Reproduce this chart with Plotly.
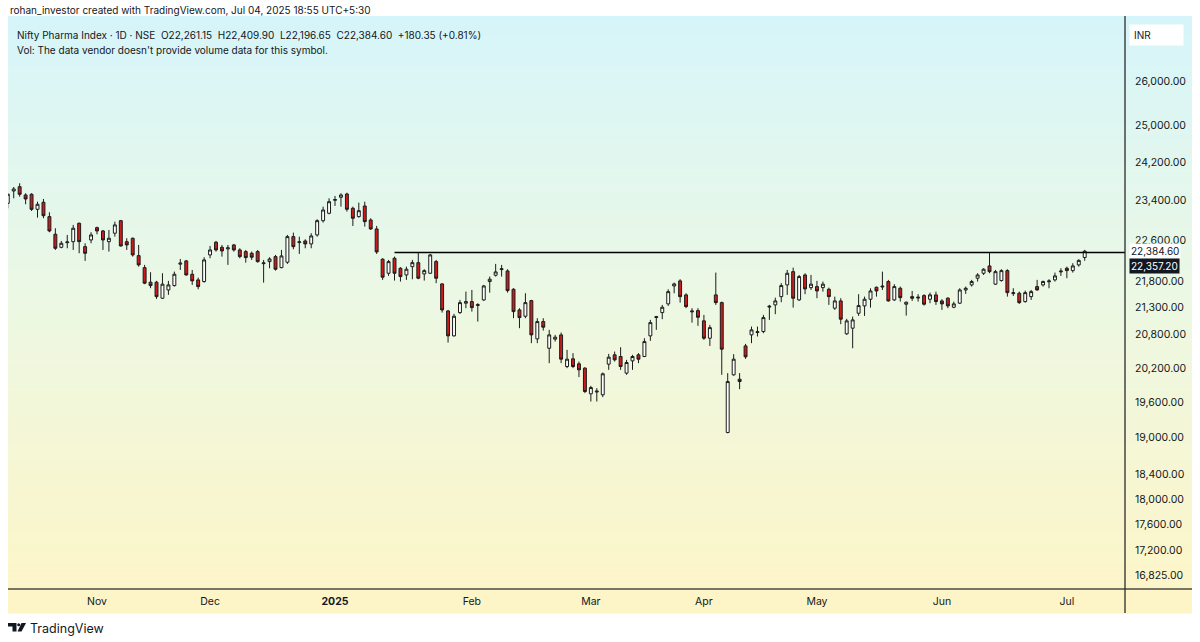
import math
import pandas as pd
import plotly.graph_objects as go

symbol = "Nifty Pharma Index · 1D · NSE"
header = "rohan_investor created with TradingView.com, Jul 04, 2025 18:55 UTC+5:30"
vol_note = "Vol: The data vendor doesn't provide volume data for this symbol."

# NSE trading days shown on the chart
holidays = ["2024-11-15", "2024-11-20", "2024-12-25", "2025-02-26", "2025-03-14",
            "2025-03-31", "2025-04-10", "2025-04-14", "2025-04-18", "2025-05-01"]
special_sessions = ["2025-02-01"]

opens = [
    23348, 23602, 23692, 23520, 23534, 23225, 23369, 23076, 22721, 22461,
    22553, 22573, 22942, 22474, 22607, 22853, 22787, 22573, 22741, 22994,
    22573, 22641, 22297, 22063, 21782, 21782, 21477, 21634, 21717, 22130,
    22194, 21935, 21826, 21794, 22311, 22561, 22461, 22430, 22508, 22409,
    22376, 22344, 22376, 22140, 22180, 22278, 22063, 22168, 22673, 22555,
    22587, 22528, 22707, 22994, 23144, 23410, 23472, 23540, 23246, 23076,
    23293, 23008, 22827, 22227, 21954, 22246, 22051, 21921, 22082, 22160,
    21941, 21954, 22180, 21749, 21238, 20777, 21207, 21383, 21413, 21340,
    21445, 21794, 21916, 22025, 21999, 21647, 21257, 21139, 21432, 20722,
    21040, 20552, 20717, 20795, 20224, 20361, 20272, 20195, 19744, 19775,
    19727, 20266, 20433, 20403, 20107, 20325, 20433, 20403, 20777, 21115,
    21207, 21370, 21710, 21807, 21540, 21220, 21244, 21053, 20734, 21540,
    21394, 19083, 20077, 20000, 20594, 20795, 20838, 20856, 21310, 21351,
    21507, 21730, 21985, 21445, 21921, 21678, 21698, 21678, 21647, 21289,
    21426, 20814, 20918, 21195, 21332, 21458, 21685, 21690, 21794, 21445,
    21666, 21364, 21507, 21480, 21526, 21458, 21540, 21426, 21477, 21307,
    21383, 21634, 21730, 21858, 21954, 22096, 21744, 21813, 22005, 21565,
    21571, 21413, 21507, 21698, 21730, 21790, 21826, 21980, 22051, 22005,
    22116, 22261.15,
]
highs = [
    23555, 23686, 23763, 23555, 23555, 23381, 23437, 23164, 22841, 22587,
    22707, 22908, 22954, 22541, 22761, 22874, 22807, 22807, 22974, 23008,
    22641, 22653, 22508, 22116, 21974, 21807, 21954, 21807, 21985, 22232,
    22213, 22018, 21870, 22266, 22488, 22587, 22508, 22508, 22528, 22442,
    22409, 22376, 22409, 22213, 22266, 22311, 22409, 22707, 22753, 22673,
    22621, 22741, 23022, 23279, 23451, 23499, 23555, 23567, 23279, 23361,
    23381, 23043, 22887, 22246, 22213, 22278, 22071, 22082, 22213, 22356,
    22032, 22331, 22213, 21763, 21257, 21183, 21445, 21602, 21634, 21383,
    21730, 21890, 22135, 22116, 22032, 21666, 21289, 21571, 21445, 21102,
    21102, 20887, 20795, 20838, 20522, 20463, 20313, 20213, 19882, 19842,
    20117, 20450, 20492, 20570, 20343, 20433, 20463, 20734, 21071, 21145,
    21351, 21647, 21774, 21839, 21571, 21289, 21289, 21164, 20979, 21967,
    21413, 20107, 20445, 20107, 20631, 20948, 20948, 21164, 21351, 21488,
    21763, 22018, 22063, 21921, 21954, 21921, 21807, 21794, 21678, 21507,
    21477, 21090, 21133, 21553, 21507, 21666, 21698, 21985, 21826, 21744,
    21698, 21413, 21615, 21553, 21553, 21583, 21602, 21458, 21496, 21413,
    21666, 21698, 21826, 21954, 22051, 22360, 22018, 22032, 22032, 21666,
    21602, 21621, 21634, 21826, 21813, 21839, 21967, 22051, 22082, 22149,
    22225, 22409.90,
]
lows = [
    23246, 23451, 23484, 23328, 23191, 23055, 23043, 22761, 22409, 22442,
    22442, 22409, 22344, 22194, 22541, 22721, 22409, 22376, 22673, 22474,
    22409, 22278, 22082, 21744, 21667, 21464, 21464, 21540, 21698, 22018,
    21908, 21730, 21647, 21774, 22246, 22376, 22278, 22116, 22376, 22246,
    22160, 22213, 22160, 21774, 22051, 22005, 22051, 22135, 22422, 22331,
    22442, 22442, 22673, 22954, 23123, 23293, 23279, 23177, 22887, 23055,
    22874, 22807, 22331, 21826, 21903, 21813, 21794, 21826, 21839, 21839,
    21813, 21941, 21763, 21207, 20655, 20765, 21183, 21289, 21225, 21040,
    21426, 21583, 21890, 21890, 21583, 21102, 20918, 21102, 20644, 20644,
    20874, 20284, 20673, 20284, 20195, 20195, 20037, 19756, 19611, 19611,
    19686, 20165, 20313, 20165, 20077, 20165, 20284, 20392, 20686, 20887,
    21084, 21332, 21571, 21394, 21289, 21021, 20961, 20704, 20594, 21351,
    20077, 19070, 20060, 19825, 20361, 20644, 20765, 20826, 21071, 21177,
    21402, 21540, 21300, 21426, 21553, 21634, 21477, 21602, 21351, 21257,
    20992, 20795, 20552, 21145, 21145, 21300, 21507, 21634, 21413, 21426,
    21413, 21151, 21426, 21413, 21338, 21383, 21351, 21257, 21289, 21289,
    21370, 21559, 21698, 21794, 21921, 21954, 21730, 21794, 21507, 21520,
    21370, 21394, 21445, 21621, 21698, 21666, 21794, 21903, 21858, 21967,
    22082, 22196.65,
]
closes = [
    23534, 23644, 23534, 23437, 23225, 23328, 23095, 22787, 22442, 22541,
    22567, 22841, 22573, 22344, 22707, 22787, 22607, 22641, 22908, 22488,
    22508, 22311, 22116, 21763, 21717, 21507, 21744, 21730, 21935, 22150,
    21921, 21807, 21698, 22213, 22409, 22409, 22389, 22450, 22409, 22278,
    22259, 22266, 22180, 22155, 22232, 22032, 22291, 22673, 22474, 22570,
    22528, 22687, 22994, 23211, 23381, 23425, 23520, 23225, 23043, 23197,
    22974, 22827, 22370, 21878, 22180, 21954, 21890, 22032, 22160, 21858,
    22005, 22311, 21858, 21257, 20777, 21139, 21394, 21413, 21300, 21355,
    21710, 21839, 21980, 22040, 21621, 21225, 21114, 21394, 20795, 21040,
    20936, 20795, 20753, 20355, 20355, 20224, 20165, 19784, 19853, 19790,
    20095, 20391, 20343, 20224, 20295, 20403, 20355, 20673, 21021, 21130,
    21307, 21602, 21749, 21507, 21319, 21235, 21120, 20734, 20929, 21394,
    20535, 19958, 20355, 19958, 20397, 20887, 20853, 21114, 21325, 21426,
    21717, 21954, 21477, 21890, 21653, 21744, 21615, 21744, 21507, 21426,
    21084, 21053, 21071, 21338, 21458, 21615, 21615, 21705, 21426, 21698,
    21488, 21402, 21477, 21495, 21364, 21540, 21413, 21370, 21332, 21370,
    21634, 21666, 21794, 21921, 22032, 21985, 21985, 22005, 21583, 21580,
    21394, 21583, 21602, 21634, 21794, 21805, 21903, 21995, 22005, 22096,
    22204.25, 22384.60,
]

price_ticks = [26000, 25000, 24200, 23400, 22600, 21800, 21300, 20800, 20200,
               19600, 19000, 18400, 18000, 17600, 17200, 16825]
month_names = {1: "<b>2025</b>", 2: "Feb", 3: "Mar", 4: "Apr", 5: "May", 6: "Jun",
               7: "Jul", 11: "Nov", 12: "Dec"}
hline_price = 22357.20
hline_start = "2025-01-15"

dates = pd.bdate_range("2024-10-11", "2025-07-04", freq="C", holidays=holidays)
dates = dates.union(pd.DatetimeIndex(special_sessions))
assert len(dates) == len(opens) == len(highs) == len(lows) == len(closes)
xs = list(range(len(dates)))

tick_pos, tick_txt = [], []
for i, d in enumerate(dates):
    if i > 0 and d.month in month_names and dates[i - 1].month != d.month:
        tick_pos.append(i)
        tick_txt.append(month_names[d.month])

W, H = 1200, 642
L, R, T, B = 8, 75, 16, 53
PW, PH = W - L - R, H - T - B
BAR_PX = 5.95
x0 = 0.04
x1 = x0 + PW / BAR_PX
y_lo, y_hi = 4.22083, 4.43984


def px(x):
    return (x - L) / PW


def py(y):
    return (H - B - y) / PH


TXT = "#131722"
FONT = "Inter"

fig = go.Figure()

# gradient background (cyan -> pale green -> pale yellow)
stops = [(0.0, (214, 245, 250)), (0.5, (237, 248, 226)), (1.0, (254, 245, 198))]
n = 120
top, bot = 16, 613
for k in range(n):
    t = (k + 0.5) / n
    for (a, ca), (b, cb) in zip(stops[:-1], stops[1:]):
        if a <= t <= b:
            f = (t - a) / (b - a)
            c = tuple(round(ca[j] + (cb[j] - ca[j]) * f) for j in range(3))
    ya = top + (bot - top) * k / n
    yb = top + (bot - top) * (k + 1) / n + 0.6
    fig.add_shape(type="rect", xref="paper", yref="paper", x0=px(8), x1=px(1192),
                  y0=py(yb), y1=py(ya), line_width=0, fillcolor="rgb(%d,%d,%d)" % c,
                  layer="below")

fig.add_trace(go.Candlestick(
    x=xs, open=opens, high=highs, low=lows, close=closes,
    increasing=dict(fillcolor="#ffffff", line=dict(color="#1b1b1b", width=1)),
    decreasing=dict(fillcolor="#cc1b1b", line=dict(color="#1b1b1b", width=1)),
    whiskerwidth=0, showlegend=False, hoverinfo="skip",
))

start_idx = list(dates).index(pd.Timestamp(hline_start))
fig.add_trace(go.Scatter(x=[start_idx, x1], y=[hline_price, hline_price], mode="lines",
                         line=dict(color="#000000", width=1.6), showlegend=False,
                         hoverinfo="skip"))

# axis lines
fig.add_shape(type="line", xref="paper", yref="paper", x0=px(8), x1=px(1192),
              y0=0, y1=0, line=dict(color="#4a4a42", width=1.3))
fig.add_shape(type="line", xref="paper", yref="paper", x0=1, x1=1,
              y0=py(613), y1=py(16), line=dict(color="#2a2a2a", width=1.3))

# TradingView logo (footer)
fig.add_shape(type="path", xref="paper", yref="paper",
              path="M %f %f L %f %f L %f %f L %f %f L %f %f L %f %f Z" % (
                  px(8), py(623), px(16.5), py(623), px(16.5), py(631.5),
                  px(12.5), py(631.5), px(12.5), py(626.5), px(8), py(626.5)),
              fillcolor=TXT, line_width=0)
fig.add_shape(type="circle", xref="paper", yref="paper", x0=px(17.2), x1=px(20.2),
              y0=py(626.2), y1=py(623.2), fillcolor=TXT, line_width=0)
fig.add_shape(type="path", xref="paper", yref="paper",
              path="M %f %f L %f %f L %f %f L %f %f Z" % (
                  px(21.5), py(623), px(26), py(623), px(21.5), py(631.5), px(17.5), py(631.5)),
              fillcolor=TXT, line_width=0)

o, h, l, c = opens[-1], highs[-1], lows[-1], closes[-1]
chg = c - closes[-2]
sp = "&nbsp;&nbsp;"
ohlc = (f"{symbol}{sp}O{o:,.2f}{sp}H{h:,.2f}{sp}L{l:,.2f}{sp}C{c:,.2f}{sp}"
        f"{chg:+.2f} ({chg / closes[-2] * 100:+.2f}%)")

ann = [
    dict(text=header, x=px(8), y=py(10), size=10),
    dict(text=ohlc, x=px(15), y=py(35), size=10),
    dict(text=vol_note, x=px(15), y=py(50), size=10),
    dict(text="TradingView", x=px(28), y=py(628), size=12.5),
]
for a in ann:
    fig.add_annotation(text=a["text"], xref="paper", yref="paper", x=a["x"], y=a["y"],
                       xanchor="left", yanchor="middle", showarrow=False,
                       font=dict(family=FONT, size=a["size"], color=TXT))

fig.add_annotation(text="INR" + "&nbsp;" * 10, xref="paper", yref="paper",
                   x=px(1129), y=py(35), xanchor="left", yanchor="middle", showarrow=False,
                   bgcolor="#ffffff", borderpad=4, font=dict(family=FONT, size=10, color=TXT))
fig.add_annotation(text=f"{c:,.2f}", xref="paper", yref="y", x=px(1129),
                   y=math.log10(c), xanchor="left", yanchor="middle", showarrow=False,
                   bgcolor="#ffffff", borderpad=1, font=dict(family=FONT, size=10, color=TXT))
fig.add_annotation(text=f"{hline_price:,.2f}", xref="paper", yref="y", x=px(1129),
                   y=math.log10(hline_price), yshift=-13, xanchor="left", yanchor="middle",
                   showarrow=False, bgcolor="#131722", borderpad=1,
                   font=dict(family=FONT, size=10, color="#ffffff"))

fig.update_layout(
    width=W, height=H, margin=dict(l=L, r=R, t=T, b=B, autoexpand=False),
    paper_bgcolor="#ffffff", plot_bgcolor="rgba(0,0,0,0)",
    font=dict(family=FONT, size=10.5, color=TXT),
    showlegend=False,
    xaxis=dict(range=[x0, x1], showgrid=False, zeroline=False, showline=False,
               tickvals=tick_pos, ticktext=tick_txt, ticks="", ticklabelstandoff=4,
               tickfont=dict(size=10.5), automargin=False,
               rangeslider=dict(visible=False), fixedrange=True),
    yaxis=dict(type="log", side="right", range=[y_lo, y_hi], showgrid=False,
               zeroline=False, showline=False, tickvals=price_ticks,
               ticktext=[f"{v:,.2f}" for v in price_ticks], ticks="",
               tickfont=dict(size=10.5), automargin=False,
               ticklabelstandoff=9, fixedrange=True),
)

# the page's default body margin would shift the figure by 8px
fig.write_html("out.html", config={"displayModeBar": False},
               post_script="document.body.style.margin='0px';")
